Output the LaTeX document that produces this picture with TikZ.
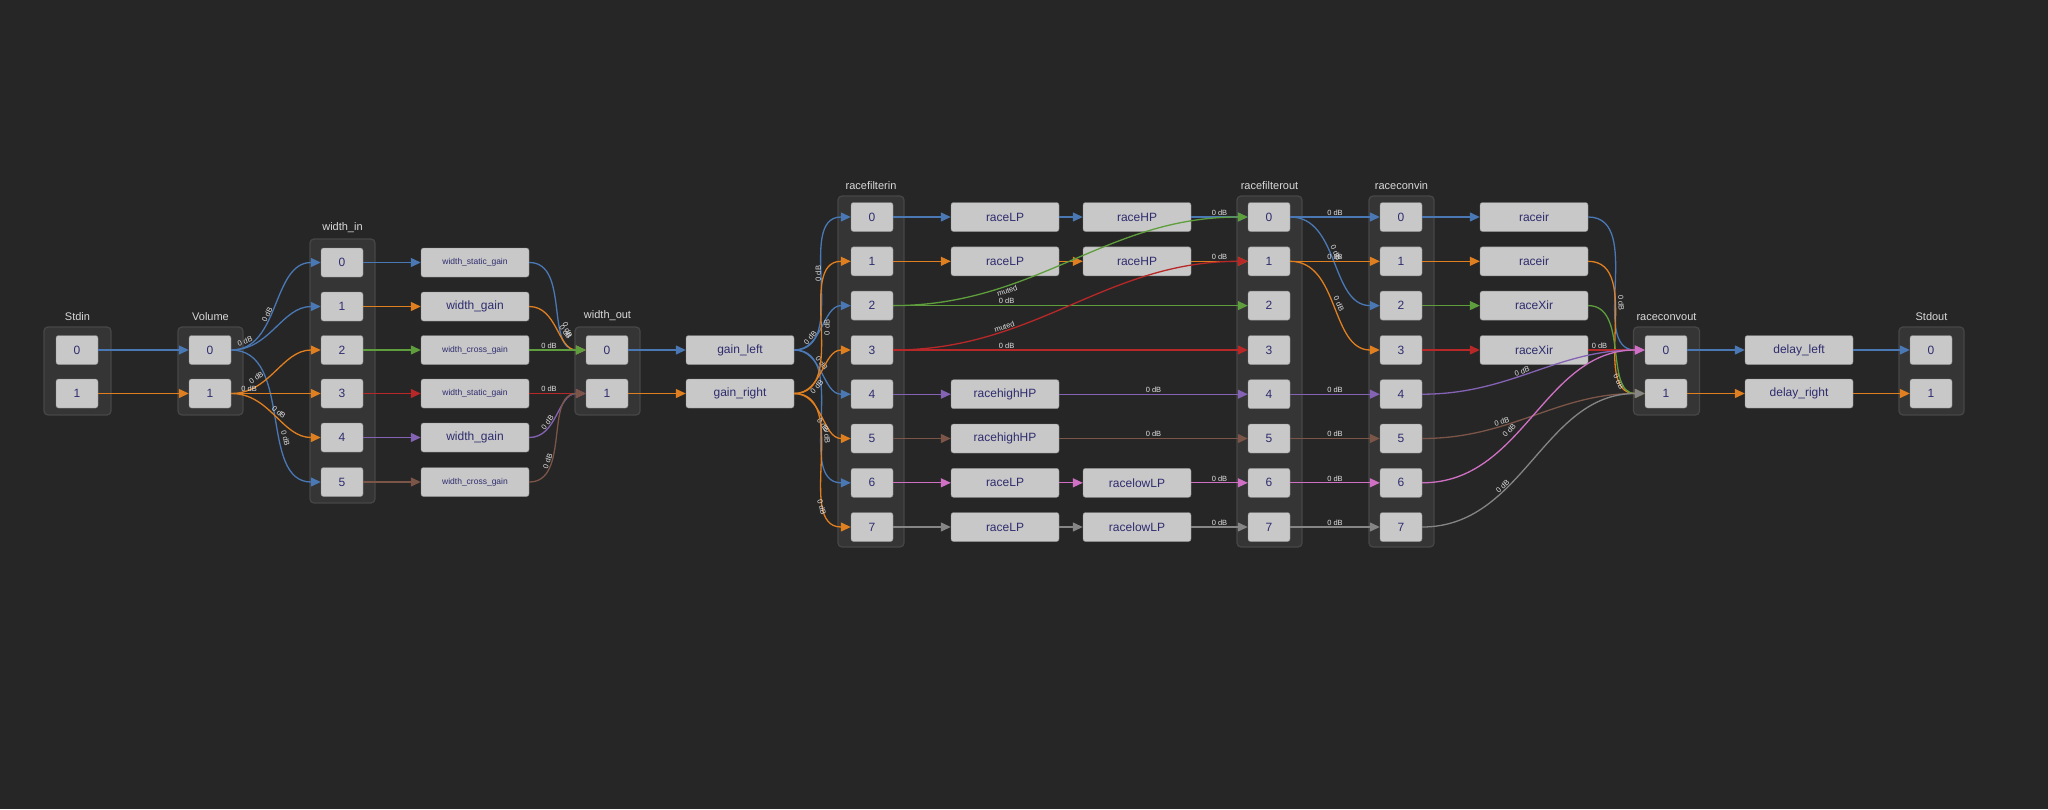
\documentclass[tikz,border=0pt]{standalone}
\usepackage{fontspec}
\setmainfont{Liberation Sans}
\usetikzlibrary{arrows.meta}
\definecolor{bg}{HTML}{262626}
\definecolor{grpfill}{HTML}{353535}
\definecolor{grpline}{HTML}{474747}
\definecolor{portfill}{HTML}{C8C8C8}
\definecolor{porttext}{HTML}{2E2C6E}
\definecolor{cB}{HTML}{4A78B4}
\definecolor{cO}{HTML}{E07F20}
\definecolor{cG}{HTML}{5E9E3C}
\definecolor{cR}{HTML}{B82828}
\definecolor{cP}{HTML}{8462B4}
\definecolor{cN}{HTML}{7A5548}
\definecolor{cK}{HTML}{D070C4}
\definecolor{cY}{HTML}{858585}
\tikzset{
  grp/.style={draw=grpline,fill=grpfill,rounded corners=4pt,line width=1.2pt,inner sep=0pt},
  grplabel/.style={text=white!85!black,font=\fontsize{11}{12}\selectfont,anchor=south,inner sep=2pt},
  port/.style={draw=white!55!black,fill=portfill,rounded corners=2.5pt,minimum width=42pt,minimum height=29pt,inner sep=0pt,text=porttext,font=\fontsize{12}{13}\selectfont},
  proc/.style={port,minimum width=108pt},
  small/.style={font=\fontsize{8.5}{9}\selectfont},
  wire/.style={line width=1.3pt,-{Triangle[length=10pt,width=9pt]}},
  lab/.style={text=white!88!black,font=\fontsize{7.5}{8}\selectfont,inner sep=1pt}
}
\begin{document}
\begin{tikzpicture}[x=1pt,y=-1pt]
\fill[bg] (0,0) rectangle (2048,809);
\useasboundingbox (0,0) rectangle (2048,809);
% groups
\node[grp,minimum width=67,minimum height=88] (gstdin) at (77.5,371) {};
\node[grplabel] at (gstdin.north) [yshift=4pt] {Stdin};
\node[grp,minimum width=65,minimum height=88] (gvol) at (210.5,371) {};
\node[grplabel] at (gvol.north) [yshift=4pt] {Volume};
\node[grp,minimum width=65,minimum height=264] (gwin) at (342.5,371) {};
\node[grplabel] at (gwin.north) [yshift=4pt] {width\_in};
\node[grp,minimum width=65,minimum height=88] (gwout) at (607.5,371) {};
\node[grplabel] at (gwout.north) [yshift=4pt] {width\_out};
\node[grp,minimum width=66,minimum height=351] (grfi) at (871,371.5) {};
\node[grplabel] at (grfi.north) [yshift=4pt] {racefilterin};
\node[grp,minimum width=65,minimum height=351] (grfo) at (1269.5,371.5) {};
\node[grplabel] at (grfo.north) [yshift=4pt] {racefilterout};
\node[grp,minimum width=65,minimum height=351] (grci) at (1401.5,371.5) {};
\node[grplabel] at (grci.north) [yshift=4pt] {raceconvin};
\node[grp,minimum width=66,minimum height=88] (grco) at (1666.5,371) {};
\node[grplabel] at (grco.north) [yshift=4pt] {raceconvout};
\node[grp,minimum width=65,minimum height=88] (gout) at (1931.5,371) {};
\node[grplabel] at (gout.north) [yshift=4pt] {Stdout};
% ports
\node[port] (si0) at (77,350) {0};
\node[port] (si1) at (77,393.5) {1};
\node[port] (v0) at (210,350) {0};
\node[port] (v1) at (210,393.5) {1};
\foreach \i/\y in {0/262.5,1/306.5,2/350,3/393.5,4/437.5,5/482}{
  \node[port] (w\i) at (342,\y) {\i};}
\node[proc,small] (p0) at (475,262.5) {width\_static\_gain};
\node[proc] (p1) at (475,306.5) {width\_gain};
\node[proc,small] (p2) at (475,350) {width\_cross\_gain};
\node[proc,small] (p3) at (475,393.5) {width\_static\_gain};
\node[proc] (p4) at (475,437.5) {width\_gain};
\node[proc,small] (p5) at (475,482) {width\_cross\_gain};
\node[port] (wo0) at (607,350) {0};
\node[port] (wo1) at (607,393.5) {1};
\node[proc] (gl) at (740,350) {gain\_left};
\node[proc] (gr) at (740,393.5) {gain\_right};
\foreach \i/\y in {0/217,1/261.3,2/305.6,3/350,4/394.2,5/438.5,6/482.8,7/527}{
  \node[port] (fi\i) at (872,\y) {\i};
  \node[port] (fo\i) at (1269,\y) {\i};
  \node[port] (ci\i) at (1401,\y) {\i};}
\node[proc] (a0) at (1005,217) {raceLP};
\node[proc] (b0) at (1137,217) {raceHP};
\node[proc] (a1) at (1005,261.3) {raceLP};
\node[proc] (b1) at (1137,261.3) {raceHP};
\node[proc] (a4) at (1005,394.2) {racehighHP};
\node[proc] (a5) at (1005,438.5) {racehighHP};
\node[proc] (a6) at (1005,482.8) {raceLP};
\node[proc] (b6) at (1137,482.8) {racelowLP};
\node[proc] (a7) at (1005,527) {raceLP};
\node[proc] (b7) at (1137,527) {racelowLP};
\node[proc] (r0) at (1534,217) {raceir};
\node[proc] (r1) at (1534,261.3) {raceir};
\node[proc] (r2) at (1534,305.6) {raceXir};
\node[proc] (r3) at (1534,350) {raceXir};
\node[port] (co0) at (1666,350) {0};
\node[port] (co1) at (1666,393.5) {1};
\node[proc] (dl) at (1799,350) {delay\_left};
\node[proc] (dr) at (1799,393.5) {delay\_right};
\node[port] (so0) at (1931,350) {0};
\node[port] (so1) at (1931,393.5) {1};
% edges
\draw[wire,cB] (si0) -- (v0);
\draw[wire,cO] (si1) -- (v1);
\draw[wire,cB] (v0.east) to[out=0,in=180] node[lab,pos=.42,sloped,above]{0 dB} (w0.west);
\draw[wire,cB] (v0.east) to[out=0,in=180] node[lab,pos=.15,sloped,above=2pt]{0 dB} (w1.west);
\draw[wire,cB] (v0.east) to[out=0,in=180] node[lab,pos=.62,sloped,above]{0 dB} (w5.west);
\draw[wire,cO] (v1.east) to[out=0,in=180] node[lab,pos=.3,sloped,above=3pt]{0 dB} (w2.west);
\draw[wire,cO] (v1.east) -- node[lab,pos=.2,above]{0 dB} (w3.west);
\draw[wire,cO] (v1.east) to[out=0,in=180] node[lab,pos=.5,sloped,above]{0 dB} (w4.west);
\draw[wire,cB] (w0) -- (p0);
\draw[wire,cO] (w1) -- (p1);
\draw[wire,cG] (w2) -- (p2);
\draw[wire,cR] (w3) -- (p3);
\draw[wire,cP] (w4) -- (p4);
\draw[wire,cN] (w5) -- (p5);
\draw[wire,cB] (p0.east) to[out=0,in=180] node[lab,pos=.7,sloped,above]{0 dB} (wo0.west);
\draw[wire,cO] (p1.east) to[out=0,in=180] node[lab,pos=.6,sloped,above]{0 dB} (wo0.west);
\draw[wire,cG] (p2.east) -- node[lab,pos=.35,above]{0 dB} (wo0.west);
\draw[wire,cR] (p3.east) -- node[lab,pos=.35,above]{0 dB} (wo1.west);
\draw[wire,cP] (p4.east) to[out=0,in=180] node[lab,pos=.35,sloped,above]{0 dB} (wo1.west);
\draw[wire,cN] (p5.east) to[out=0,in=180] node[lab,pos=.3,sloped,above]{0 dB} (wo1.west);
\draw[wire,cB] (wo0) -- (gl);
\draw[wire,cO] (wo1) -- (gr);
\foreach \i/\p in {0/.55,2/.3,4/.4,6/.6}{
  \draw[wire,cB] (gl.east) to[out=0,in=180] node[lab,pos=\p,sloped,above]{0 dB} (fi\i.west);}
\foreach \i/\p in {1/.5,3/.3,5/.6,7/.75}{
  \draw[wire,cO] (gr.east) to[out=0,in=180] node[lab,pos=\p,sloped,below]{0 dB} (fi\i.west);}
\draw[wire,cB] (fi0) -- (a0);
\draw[wire,cB] (a0) -- (b0);
\draw[wire,cB] (b0) -- node[lab,above]{0 dB} (fo0);
\draw[wire,cO] (fi1) -- (a1);
\draw[wire,cO] (a1) -- (b1);
\draw[wire,cO] (b1) -- node[lab,above]{0 dB} (fo1);
\draw[wire,cG] (fi2) -- node[lab,pos=.32,above]{0 dB} (fo2);
\draw[wire,cG] (fi2.east) to[out=0,in=180] node[lab,pos=.3,sloped,below]{muted} (fo0.west);
\draw[wire,cR] (fi3) -- node[lab,pos=.32,above]{0 dB} (fo3);
\draw[wire,cR] (fi3.east) to[out=0,in=180] node[lab,pos=.3,sloped,above]{muted} (fo1.west);
\draw[wire,cP] (fi4) -- (a4);
\draw[wire,cP] (a4) -- node[lab,above]{0 dB} (fo4);
\draw[wire,cN] (fi5) -- (a5);
\draw[wire,cN] (a5) -- node[lab,above]{0 dB} (fo5);
\draw[wire,cK] (fi6) -- (a6);
\draw[wire,cK] (a6) -- (b6);
\draw[wire,cK] (b6) -- node[lab,above]{0 dB} (fo6);
\draw[wire,cY] (fi7) -- (a7);
\draw[wire,cY] (a7) -- (b7);
\draw[wire,cY] (b7) -- node[lab,above]{0 dB} (fo7);
\draw[wire,cB] (fo0) -- node[lab,above]{0 dB} (ci0);
\draw[wire,cB] (fo0.east) to[out=0,in=180] node[lab,pos=.45,sloped,above]{0 dB} (ci2.west);
\draw[wire,cO] (fo1) -- node[lab,above]{0 dB} (ci1);
\draw[wire,cO] (fo1.east) to[out=0,in=180] node[lab,pos=.5,sloped,above]{0 dB} (ci3.west);
\draw[wire,cP] (fo4) -- node[lab,above]{0 dB} (ci4);
\draw[wire,cN] (fo5) -- node[lab,above]{0 dB} (ci5);
\draw[wire,cK] (fo6) -- node[lab,above]{0 dB} (ci6);
\draw[wire,cY] (fo7) -- node[lab,above]{0 dB} (ci7);
\draw[wire,cB] (ci0) -- (r0);
\draw[wire,cO] (ci1) -- (r1);
\draw[wire,cG] (ci2) -- (r2);
\draw[wire,cR] (ci3) -- (r3);
\draw[wire,cB] (r0.east) to[out=0,in=180] node[lab,pos=.6,sloped,above]{0 dB} (co0.west);
\draw[wire,cO] (r1.east) to[out=0,in=180] node[lab,pos=.8,sloped,below]{0 dB} (co1.west);
\draw[wire,cG] (r2.east) to[out=0,in=180] (co1.west);
\draw[wire,cR] (r3.east) -- node[lab,pos=.2,above]{0 dB} (co0.west);
\draw[wire,cP] (ci4.east) to[out=0,in=180] node[lab,pos=.45,sloped,above]{0 dB} (co0.west);
\draw[wire,cN] (ci5.east) to[out=0,in=180] node[lab,pos=.35,sloped,above]{0 dB} (co1.west);
\draw[wire,cK] (ci6.east) to[out=0,in=180] node[lab,pos=.4,sloped,above=4pt]{0 dB} (co0.west);
\draw[wire,cY] (ci7.east) to[out=0,in=180] node[lab,pos=.35,sloped,above]{0 dB} (co1.west);
\draw[wire,cB] (co0) -- (dl);
\draw[wire,cB] (dl) -- (so0);
\draw[wire,cO] (co1) -- (dr);
\draw[wire,cO] (dr) -- (so1);
\end{tikzpicture}
\end{document}
